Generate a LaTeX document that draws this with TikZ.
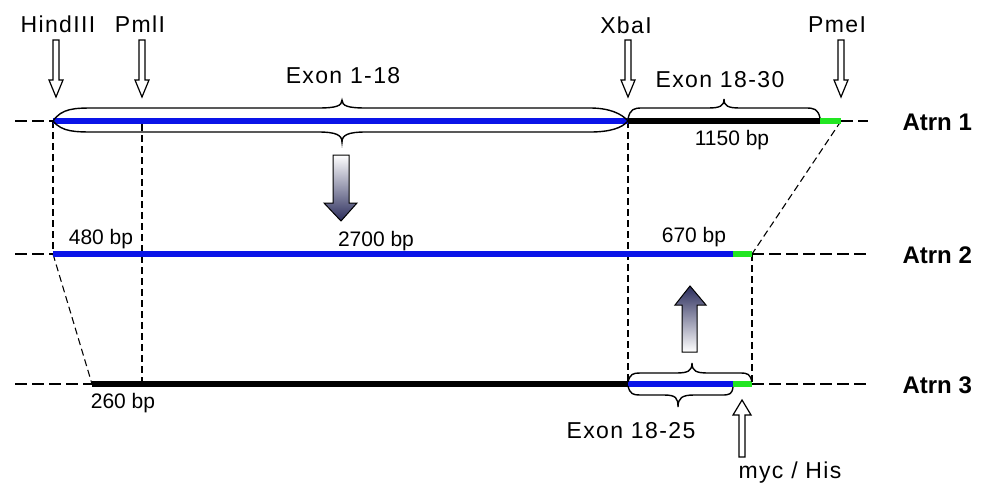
\documentclass[tikz,border=0pt]{standalone}
\usepackage{fontspec}
\setmainfont{Liberation Sans}
\newfontfamily\widesans[LetterSpace=6]{Liberation Sans}
\usetikzlibrary{positioning}
\definecolor{DnaBlue}{HTML}{0A14E8}
\definecolor{TagGreen}{HTML}{22E622}
\definecolor{Navy}{HTML}{2B2D5C}

\begin{document}
\begin{tikzpicture}[x=1pt,y=-1pt,
  lbl/.style={font=\widesans\fontsize{23}{26}\selectfont},
  bp/.style={font=\fontsize{21}{24}\selectfont},
  row/.style={font=\fontsize{24}{27}\selectfont\bfseries,anchor=west},
  guide/.style={dash pattern=on 7pt off 4pt,line width=1.1pt},
  axis/.style={dash pattern=on 12pt off 5pt,line width=1.1pt},
  seg/.style={line width=5.5pt},
  brc/.style={line width=1.4pt},
  cut/.style={draw,line width=1.2pt,fill=white}]
\useasboundingbox (0,0) rectangle (984,490);
% segment ends on the three rows
\coordinate (r1a) at (53,121); \coordinate (r1x) at (628,121); \coordinate (r1g) at (820,121); \coordinate (r1e) at (841,121);
\coordinate (r2a) at (53,254); \coordinate (r2g) at (733,254); \coordinate (r2e) at (752,254);
\coordinate (r3a) at (92,384); \coordinate (r3x) at (628,384); \coordinate (r3g) at (733,384); \coordinate (r3e) at (752,384);
\coordinate (pml1) at (142,124); \coordinate (pml3) at (142,384);
% guide lines
\draw[guide] (r1a) -- (r2a);
\draw[guide] (r1x) -- (r3x);
\draw[guide] (r1e) -- (r2e);
\draw[guide] (r2a) -- (r3a);
\draw[guide] (r2e) -- (r3e);
\draw[guide] (pml1) -- (pml3);
% Atrn 1
\draw[axis] (15,121) -- (r1a);
\draw[axis] (r1e) -- (868,121);
\draw[seg,DnaBlue] (r1a) -- (r1x);
\draw[seg,black] (r1x) -- (r1g);
\draw[seg,TagGreen] (r1g) -- (r1e);
% Atrn 2
\draw[axis] (15,254) -- (r2a);
\draw[axis] (r2e) -- (868,254);
\draw[seg,DnaBlue] (r2a) -- (r2g);
\draw[seg,TagGreen] (r2g) -- (r2e);
% Atrn 3
\draw[axis] (15,384) -- (r3a);
\draw[axis] (r3e) -- (868,384);
\draw[seg,black] (r3a) -- (r3x);
\draw[seg,DnaBlue] (r3x) -- (r3g);
\draw[seg,TagGreen] (r3g) -- (r3e);
% braces
\draw[brc] (r1a) .. controls (62,108) and (75,108) .. (95,108) -- (318,108) .. controls (336,108) and (342,106) .. (342,100) .. controls (342,106) and (348,108) .. (366,108) -- (590,108) .. controls (610,108) and (622,114) .. (r1x);
\draw[brc] (r1a) .. controls (62,132) and (75,132) .. (95,132) -- (318,132) .. controls (336,132) and (342,135) .. (342,142) .. controls (342,135) and (348,132) .. (366,132) -- (590,132) .. controls (610,132) and (622,128) .. (r1x);
\draw[brc] (628,119) .. controls (630,109) and (634,108) .. (642,108) -- (708,108) .. controls (720,108) and (724,106) .. (724,99) .. controls (724,106) and (728,108) .. (740,108) -- (806,108) .. controls (814,108) and (818,109) .. (820,118);
\draw[brc] (628,382) .. controls (630,374) and (633,373) .. (640,373) -- (676,373) .. controls (688,373) and (692,371) .. (692,363) .. controls (692,371) and (696,373) .. (708,373) -- (740,373) .. controls (748,373) and (750,374) .. (752,382);
\draw[brc] (628,386) .. controls (630,394) and (633,395) .. (640,395) -- (664,395) .. controls (676,395) and (678,398) .. (678,407) .. controls (678,398) and (682,395) .. (694,395) -- (722,395) .. controls (730,395) and (732,394) .. (733,387);
% restriction sites
\foreach \x in {56,142,628,841} {\draw[cut] (\x-3,40) -- (\x+3,40) -- (\x+3,80) -- (\x+7,80) -- (\x,97) -- (\x-7,80) -- (\x-3,80) -- cycle;}
\draw[cut] (739,457) -- (745,457) -- (745,415) -- (751,415) -- (742,400) -- (733,415) -- (739,415) -- cycle;
% shaded arrows
\shade[top color=white,bottom color=Navy,draw=black,line width=1pt] (333,155) -- (349,155) -- (349,203) -- (357,203) -- (341,221) -- (324,203) -- (333,203) -- cycle;
\shade[top color=Navy,bottom color=white,draw=black,line width=1pt] (682,352) -- (697,352) -- (697,305) -- (706,305) -- (690,286) -- (675,305) -- (682,305) -- cycle;
% labels
\node[lbl] (hind) at (58,24) {HindIII};
\node[lbl] (pml) at (140,24) {PmlI};
\node[lbl] (xba) at (626,25) {XbaI};
\node[lbl] (pme) at (837,25) {PmeI};
\node[lbl] (ex1) at (343,76) {Exon 1-18};
\node[lbl] (ex18) at (720,80) {Exon 18-30};
\node[lbl] (ex25) at (631,431) {Exon 18-25};
\node[lbl] (myc) at (790,473) {myc / His};
\node[bp] (bp1150) at (732,140) {1150 bp};
\node[bp] (bp480) at (101,239) {480 bp};
\node[bp] (bp2700) at (376,241) {2700 bp};
\node[bp] (bp670) at (694,237) {670 bp};
\node[bp] (bp260) at (123,403) {260 bp};
\node[row] (atrn1) at (899,122) {Atrn 1};
\node[row] (atrn2) at (899,255) {Atrn 2};
\node[row] (atrn3) at (899,385) {Atrn 3};
\end{tikzpicture}
\end{document}
